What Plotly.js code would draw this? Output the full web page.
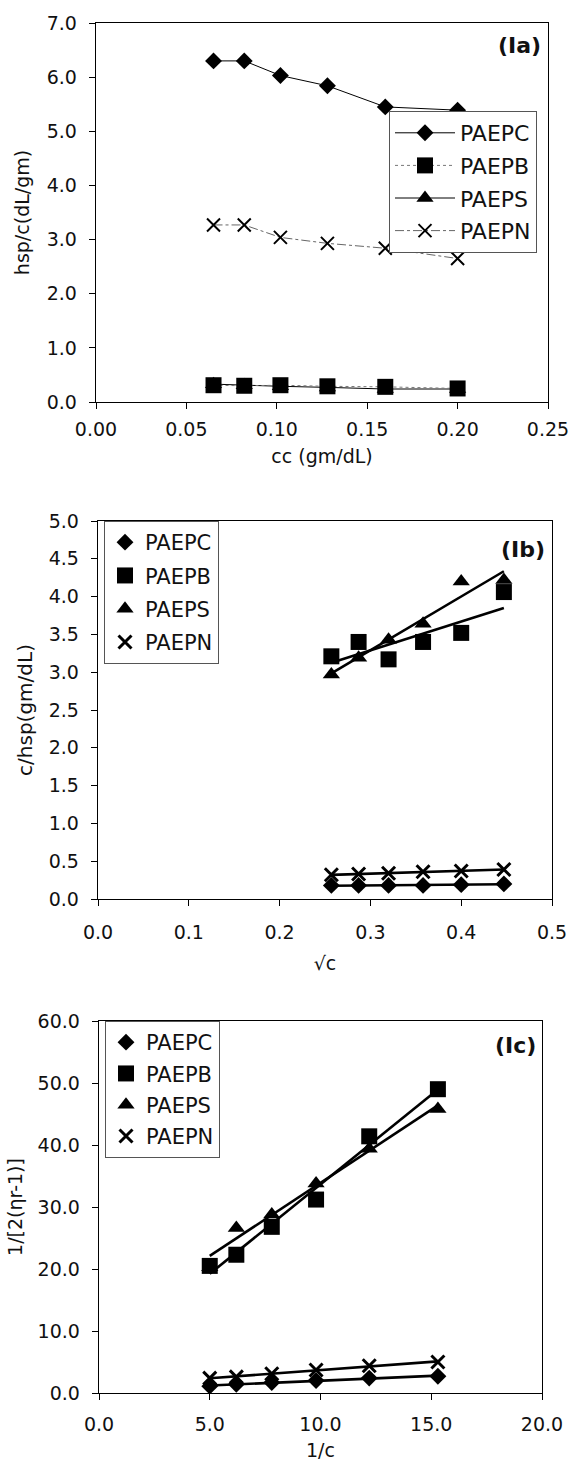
<!DOCTYPE html>
<html>
<head>
<meta charset="utf-8">
<script src="https://cdn.plot.ly/plotly-3.0.1.min.js"></script>
<style>
  html, body { margin: 0; padding: 0; background: #fff; }
  #chart { width: 572px; height: 1461px; }
</style>
</head>
<body>
<div id="chart"></div>
<script>
// Polymer names (legend entries)
const seriesNames = ['PAEPC', 'PAEPB', 'PAEPS', 'PAEPN'];

// Panel (Ia): reduced viscosity vs concentration
const concC = [0.065, 0.082, 0.102, 0.128, 0.160, 0.200];
const redViscPAEPC = [6.30, 6.30, 6.03, 5.84, 5.45, 5.39];
const redViscPAEPB = [0.31, 0.30, 0.31, 0.29, 0.28, 0.25];
const redViscPAEPS = [0.33, 0.31, 0.29, 0.27, 0.24, 0.24];
const redViscPAEPN = [3.27, 3.27, 3.04, 2.93, 2.84, 2.65];

// Panel (Ib): c/hsp vs square root of concentration
const sqrtConc = [0.257, 0.287, 0.320, 0.358, 0.400, 0.447];
const invRedPAEPC = [0.18, 0.18, 0.18, 0.18, 0.19, 0.20];
const invRedPAEPB = [3.21, 3.40, 3.17, 3.40, 3.52, 4.06];
const invRedPAEPS = [2.97, 3.19, 3.43, 3.64, 4.20, 4.22];
const invRedPAEPN = [0.32, 0.33, 0.34, 0.36, 0.37, 0.39];

// Panel (Ic): 1/[2(nr-1)] vs 1/c
const invConc = [5.0, 6.2, 7.8, 9.8, 12.2, 15.3];
const kPAEPC = [1.1, 1.4, 1.7, 2.0, 2.4, 2.7];
const kPAEPB = [20.5, 22.3, 26.8, 31.2, 41.4, 49.0];
const kPAEPS = [20.3, 26.6, 28.8, 33.8, 39.4, 45.8];
const kPAEPN = [2.4, 2.6, 3.1, 3.7, 4.4, 5.0];

// Least-squares straight line over the data range
function linearFit(x, y) {
  const n = x.length;
  const mx = x.reduce((a, b) => a + b, 0) / n;
  const my = y.reduce((a, b) => a + b, 0) / n;
  let sxy = 0, sxx = 0;
  for (let i = 0; i < n; i++) {
    sxy += (x[i] - mx) * (y[i] - my);
    sxx += (x[i] - mx) * (x[i] - mx);
  }
  const slope = sxy / sxx;
  const x0 = Math.min(...x), x1 = Math.max(...x);
  return { x: [x0, x1], y: [my + slope * (x0 - mx), my + slope * (x1 - mx)] };
}

const symbols = {
  PAEPC: { symbol: 'diamond', size: 13 },
  PAEPB: { symbol: 'square', size: 16 },
  PAEPS: { symbol: 'triangle-up', size: 15 },
  PAEPN: { symbol: 'x-thin', size: 13 }
};
const rank = { PAEPC: 1, PAEPB: 2, PAEPS: 3, PAEPN: 4 };
// squares are drawn after triangles so they sit on top
const drawOrder = ['PAEPC', 'PAEPS', 'PAEPB', 'PAEPN'];

function markerFor(name, xWidth) {
  const s = symbols[name];
  const m = { symbol: s.symbol, size: s.size, color: '#000' };
  if (name === 'PAEPN') m.line = { color: '#000', width: xWidth };
  else m.line = { width: 0 };
  return m;
}

const traces = [];

// (Ia) connected points
const iaLines = {
  PAEPC: { color: '#000', width: 1, dash: 'solid' },
  PAEPB: { color: '#777', width: 1, dash: 'dot' },
  PAEPS: { color: '#000', width: 1, dash: 'solid' },
  PAEPN: { color: '#666', width: 1, dash: 'dashdot' }
};
const iaData = { PAEPC: redViscPAEPC, PAEPS: redViscPAEPS, PAEPB: redViscPAEPB, PAEPN: redViscPAEPN };
drawOrder.forEach(name => {
  traces.push({
    type: 'scatter', mode: 'lines+markers', name: name,
    x: concC, y: iaData[name], xaxis: 'x', yaxis: 'y',
    legend: 'legend', legendrank: rank[name], legendgroup: 'a' + name,
    line: iaLines[name], marker: markerFor(name, 2)
  });
});

// (Ib) and (Ic): points with linear trend lines
function addFitted(xs, dataMap, xa, ya, legendId, groupPrefix) {
  drawOrder.forEach(name => {
    const f = linearFit(xs, dataMap[name]);
    traces.push({
      type: 'scatter', mode: 'lines', x: f.x, y: f.y, xaxis: xa, yaxis: ya,
      showlegend: false, hoverinfo: 'skip',
      line: { color: '#000', width: 2.6 }
    });
  });
  drawOrder.forEach(name => {
    traces.push({
      type: 'scatter', mode: 'markers', name: name,
      x: xs, y: dataMap[name], xaxis: xa, yaxis: ya,
      legend: legendId, legendrank: rank[name], legendgroup: groupPrefix + name,
      marker: markerFor(name, 3)
    });
  });
}
addFitted(sqrtConc, { PAEPC: invRedPAEPC, PAEPB: invRedPAEPB, PAEPS: invRedPAEPS, PAEPN: invRedPAEPN }, 'x2', 'y2', 'legend2', 'b');
addFitted(invConc, { PAEPC: kPAEPC, PAEPB: kPAEPB, PAEPS: kPAEPS, PAEPN: kPAEPN }, 'x3', 'y3', 'legend3', 'c');

const W = 572, H = 1461;
const px = v => v / W;
const py = v => 1 - v / H;

const axisBase = {
  showline: true, mirror: true, linecolor: '#000', linewidth: 1.3,
  ticks: 'outside', ticklen: 6, tickcolor: '#000', tickwidth: 1,
  showgrid: false, zeroline: false,
  tickfont: { size: 19, color: '#111' }
};
const titleFont = { size: 19, color: '#111' };

const legendBase = {
  xanchor: 'left', yanchor: 'top', bgcolor: '#fff',
  bordercolor: '#555', borderwidth: 1,
  font: { size: 21, color: '#111' }, traceorder: 'grouped'
};

const layout = {
  width: W, height: H,
  margin: { l: 0, r: 0, t: 0, b: 0 },
  paper_bgcolor: '#fff', plot_bgcolor: '#fff',
  font: { family: 'DejaVu Sans, sans-serif', color: '#111' },
  showlegend: true,

  xaxis: Object.assign({}, axisBase, {
    domain: [px(96), px(548)], anchor: 'y', range: [0, 0.25], dtick: 0.05,
    tickformat: '.2f', ticklabelstandoff: 4,
    title: { text: 'cc (gm/dL)', font: titleFont, standoff: 10 }
  }),
  yaxis: Object.assign({}, axisBase, {
    domain: [py(402), py(23)], anchor: 'x', range: [0, 7], dtick: 1,
    tickformat: '.1f', ticklabelstandoff: 8,
    title: { text: 'hsp/c(dL/gm)', font: titleFont, standoff: 12 }
  }),

  xaxis2: Object.assign({}, axisBase, {
    domain: [px(98), px(552)], anchor: 'y2', range: [0, 0.5], dtick: 0.1,
    tickformat: '.1f', ticklabelstandoff: 10,
    title: { text: '√c', font: titleFont, standoff: 14 }
  }),
  yaxis2: Object.assign({}, axisBase, {
    domain: [py(899), py(521)], anchor: 'x2', range: [0, 5], dtick: 0.5,
    tickformat: '.1f', ticklabelstandoff: 8,
    title: { text: 'c/hsp(gm/dL)', font: { size: 20, color: '#111' }, standoff: 10 }
  }),

  xaxis3: Object.assign({}, axisBase, {
    domain: [px(99), px(542)], anchor: 'y3', range: [0, 20], dtick: 5,
    tickformat: '.1f', ticklabelstandoff: 8,
    title: { text: '1/c', font: titleFont, standoff: 10 }
  }),
  yaxis3: Object.assign({}, axisBase, {
    domain: [py(1393), py(1021)], anchor: 'x3', range: [0, 60], dtick: 10,
    tickformat: '.1f', ticklabelstandoff: 8,
    title: { text: '1/[2(ηr-1)]', font: titleFont, standoff: 10 }
  }),

  legend: Object.assign({}, legendBase, {
    x: px(389), y: py(111), itemwidth: 60, tracegroupgap: 1, font: { size: 22, color: '#111' }
  }),
  legend2: Object.assign({}, legendBase, { x: px(104), y: py(521), itemwidth: 30, tracegroupgap: 3 }),
  legend3: Object.assign({}, legendBase, { x: px(105), y: py(1021), itemwidth: 30, tracegroupgap: 1 }),

  annotations: [
    { text: '<b>(Ia)</b>', xref: 'x domain', yref: 'y domain', x: 0.99, y: 0.94,
      xanchor: 'right', yanchor: 'middle', showarrow: false, font: { size: 22, color: '#111' } },
    { text: '<b>(Ib)</b>', xref: 'x2 domain', yref: 'y2 domain', x: 0.99, y: 0.925,
      xanchor: 'right', yanchor: 'middle', showarrow: false, font: { size: 22, color: '#111' } },
    { text: '<b>(Ic)</b>', xref: 'x3 domain', yref: 'y3 domain', x: 0.99, y: 0.935,
      xanchor: 'right', yanchor: 'middle', showarrow: false, font: { size: 22, color: '#111' } }
  ]
};

Plotly.newPlot('chart', traces, layout, { staticPlot: true, displayModeBar: false });
</script>
</body>
</html>
